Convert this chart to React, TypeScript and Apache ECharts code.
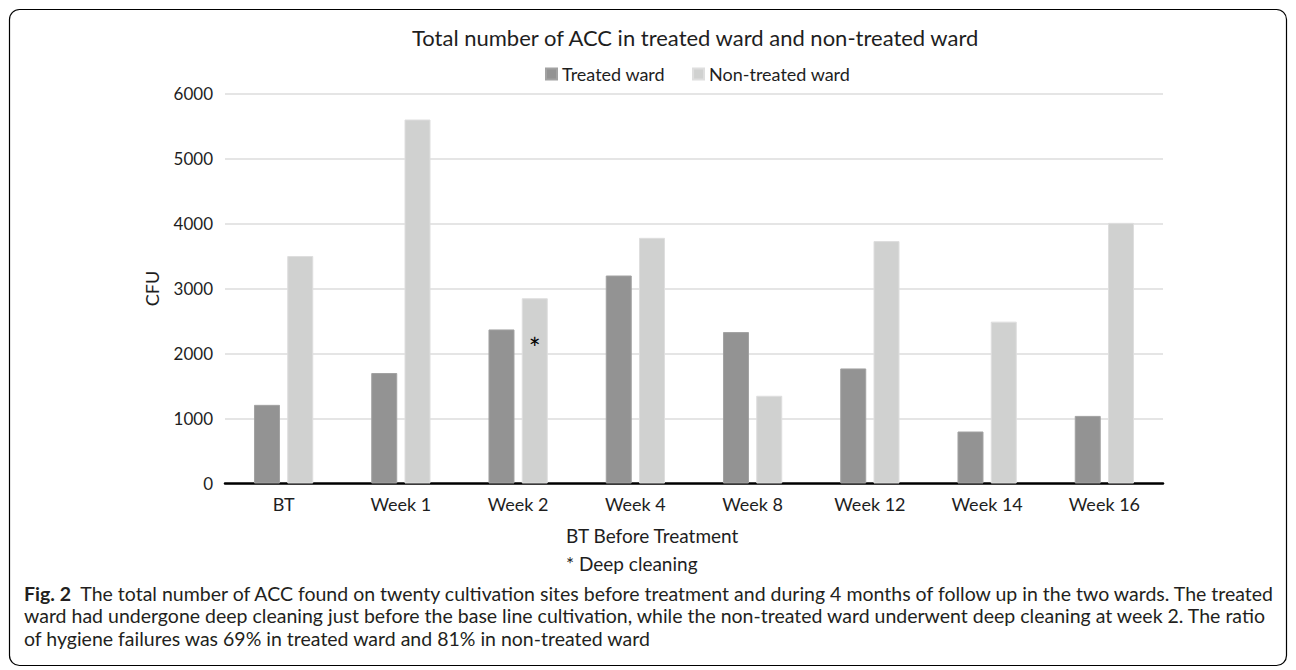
import React, { useEffect, useRef } from "react";
import * as echarts from "echarts";

const categories = ["BT", "Week 1", "Week 2", "Week 4", "Week 8", "Week 12", "Week 14", "Week 16"];
const treatedWard = [1210, 1700, 2370, 3200, 2330, 1770, 800, 1040];
const nonTreatedWard = [3500, 5600, 2850, 3780, 1350, 3730, 2490, 4010];
const seriesNames = ["Treated ward", "Non-treated ward"];
const deepCleaningIndex = 2;
const yMin = 0;
const yMax = 6000;
const yInterval = 1000;
const chartTitle = "Total number of ACC in treated ward and non-treated ward";
const yAxisName = "CFU";
const notes = ["BT Before Treatment", "* Deep cleaning"];
const captionLabel = "Fig. 2";
const captionLines = [
  "  The total number of ACC found on twenty cultivation sites before treatment and during 4 months of follow up in the two wards. The treated",
  "ward had undergone deep cleaning just before the base line cultivation, while the non-treated ward underwent deep cleaning at week 2. The ratio",
  "of hygiene failures was 69% in treated ward and 81% in non-treated ward",
];

const FONT = "Lato, 'Noto Sans', sans-serif";
const TEXT = "#1e1e1e";

export default function App() {
  const ref = useRef<HTMLDivElement>(null);
  useEffect(() => {
    if (!ref.current) return;
    const chart = echarts.init(ref.current, undefined, { renderer: "svg" });
    const option: any = {
      animation: false,
      backgroundColor: "#ffffff",
      textStyle: { fontFamily: FONT },
      title: {
        text: chartTitle,
        left: 407,
        top: 21,
        textStyle: { fontFamily: FONT, fontSize: 22, fontWeight: "normal", color: TEXT },
      },
      legend: {
        left: 540,
        top: 60,
        icon: "rect",
        itemWidth: 11,
        itemHeight: 11,
        itemGap: 27,
        textStyle: { fontFamily: FONT, fontSize: 18, color: TEXT },
        data: seriesNames,
      },
      grid: { left: 225, right: 133, top: 93.5, bottom: 186.5, containLabel: false },
      xAxis: {
        type: "category",
        data: categories,
        axisLine: { lineStyle: { color: "#000", width: 2.5 } },
        axisTick: { show: false },
        axisLabel: { fontFamily: FONT, fontSize: 18, color: TEXT, margin: 11 },
      },
      yAxis: {
        type: "value",
        min: yMin,
        max: yMax,
        interval: yInterval,
        name: yAxisName,
        nameLocation: "middle",
        nameRotate: 90,
        nameGap: 64,
        nameTextStyle: { fontFamily: FONT, fontSize: 18, color: TEXT },
        axisLine: { show: false },
        axisTick: { show: false },
        axisLabel: {
          fontFamily: FONT,
          fontSize: 17,
          color: TEXT,
          margin: 12,
          formatter: (v: number) => String(v),
        },
        splitLine: { lineStyle: { color: "#dcdcdc", width: 1.5 } },
      },
      series: [
        {
          name: seriesNames[0],
          type: "bar",
          data: treatedWard,
          barWidth: 26,
          barGap: "28%",
          itemStyle: { color: "#939393", borderColor: "#a2a2a2", borderWidth: 1 },
        },
        {
          name: seriesNames[1],
          type: "bar",
          data: nonTreatedWard.map((v, i) =>
            i === deepCleaningIndex
              ? {
                  value: v,
                  label: {
                    show: true,
                    formatter: "*",
                    position: ["50%", 36],
                    align: "center",
                    fontFamily: FONT,
                    fontSize: 28,
                    color: "#000",
                  },
                }
              : v
          ),
          barWidth: 26,
          itemStyle: { color: "#d0d1d0", borderColor: "#dedede", borderWidth: 1 },
        },
      ],
      graphic: [
        {
          type: "rect",
          shape: { x: 9.5, y: 9.5, width: 1277, height: 656, r: 10 },
          style: { fill: "none", stroke: "#000", lineWidth: 1.2 },
          silent: true,
        },
        {
          type: "text",
          x: 566,
          y: 526,
          style: { text: notes[0], fontFamily: FONT, fontSize: 19, fill: TEXT },
        },
        {
          type: "text",
          x: 566,
          y: 554,
          style: { text: notes[1], fontFamily: FONT, fontSize: 19, fill: TEXT },
        },
        {
          type: "text",
          x: 24,
          y: 582,
          style: {
            text:
              "{b|" + captionLabel + "}{r|" + captionLines[0] + "}\n{r|" + captionLines[1] + "}\n{r|" + captionLines[2] + "}",
            fontFamily: FONT,
            fontSize: 19.5,
            fill: "#231f20",
            lineHeight: 22.5,
            rich: {
              b: { fontFamily: FONT, fontSize: 19.5, fontWeight: "bold", fill: "#231f20", lineHeight: 22.5 },
              r: { fontFamily: FONT, fontSize: 19.5, fill: "#231f20", lineHeight: 22.5 },
            },
          },
        },
      ],
    };
    chart.setOption(option);
    return () => chart.dispose();
  }, []);
  return (
    <div
      ref={ref}
      style={{ position: "absolute", left: 0, top: 0, width: 1296, height: 670 }}
    />
  );
}
